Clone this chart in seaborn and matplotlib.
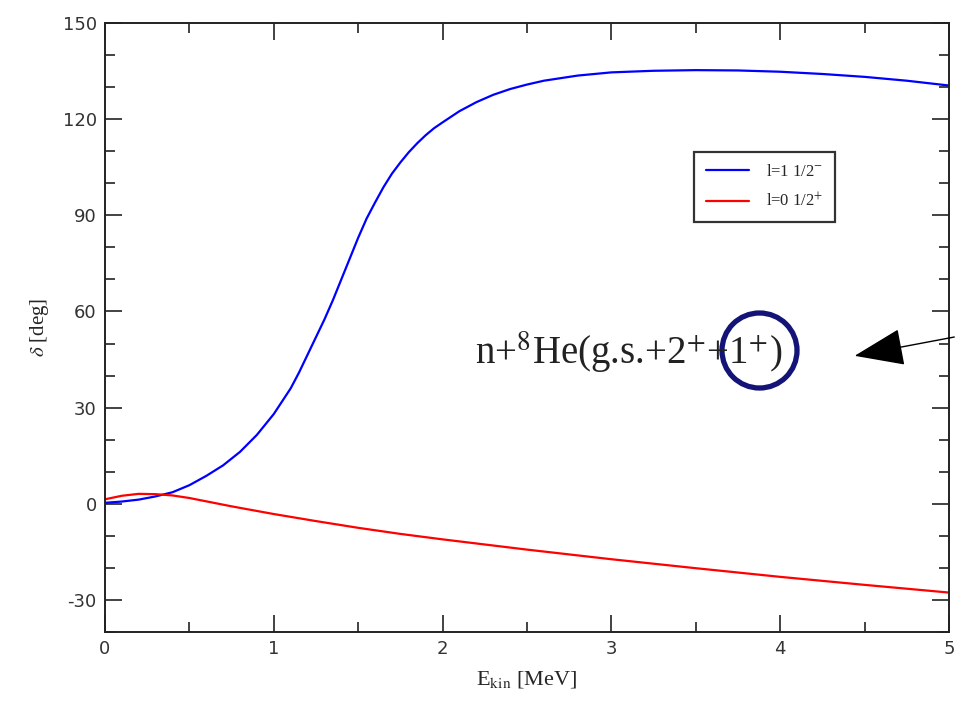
import numpy as np
import pandas as pd
import matplotlib
matplotlib.use('Agg')
import matplotlib.pyplot as plt
import seaborn as sns
from matplotlib.ticker import MultipleLocator

# phase shifts
E_P = [0, 0.1, 0.2, 0.3, 0.4, 0.5, 0.6, 0.7, 0.8, 0.9, 1.0, 1.05, 1.1, 1.15, 1.2, 1.25,
       1.3, 1.35, 1.4, 1.45, 1.5, 1.55, 1.6, 1.65, 1.7, 1.75, 1.8, 1.85, 1.9, 1.95,
       2.0, 2.1, 2.2, 2.3, 2.4, 2.5, 2.6, 2.8, 3.0, 3.25, 3.5, 3.75, 4.0, 4.25, 4.5, 4.75, 5.0]
DELTA_P = [0.3, 0.7, 1.3, 2.3, 3.6, 5.8, 8.7, 12.0, 16.2, 21.5, 28.0, 32.0, 36.0, 41.0,
           46.5, 52.0, 57.5, 63.5, 70.0, 76.5, 83.0, 89.0, 94.0, 98.8, 103.0, 106.5, 109.7,
           112.5, 115.0, 117.2, 119.0, 122.5, 125.3, 127.6, 129.4, 130.8, 132.0, 133.6, 134.6,
           135.1, 135.3, 135.2, 134.8, 134.1, 133.2, 132.0, 130.5]

E_S = [0, 0.1, 0.2, 0.3, 0.4, 0.5, 0.75, 1.0, 1.25, 1.5, 1.75, 2.0, 2.5, 3.0, 3.5, 4.0, 4.5, 5.0]
DELTA_S = [1.4, 2.5, 3.1, 3.0, 2.6, 1.8, -0.8, -3.2, -5.4, -7.5, -9.4, -11.1, -14.3,
           -17.3, -20.1, -22.8, -25.3, -27.7]

LABEL_P = r'l=1 1/2$^{-}$'
LABEL_S = r'l=0 1/2$^{+}$'

df = pd.concat([
    pd.DataFrame({'E': E_P, 'delta': DELTA_P, 'wave': LABEL_P}),
    pd.DataFrame({'E': E_S, 'delta': DELTA_S, 'wave': LABEL_S}),
], ignore_index=True)

sns.set_style('ticks')
plt.rcParams['mathtext.fontset'] = 'stix'
plt.rcParams['axes.unicode_minus'] = False
plt.rcParams['font.family'] = ['DejaVu Sans']

fig = plt.figure(figsize=(9.57, 7.04), dpi=100)
ax = fig.add_axes([0.1097, 0.1023, 0.8819, 0.865])

sns.lineplot(data=df, x='E', y='delta', hue='wave',
             palette={LABEL_P: '#0000ff', LABEL_S: '#ff0000'},
             linewidth=1.6, ax=ax, sort=False)

ax.set_xlim(0, 5)
ax.set_ylim(-40, 150)
ax.xaxis.set_major_locator(MultipleLocator(1))
ax.xaxis.set_minor_locator(MultipleLocator(0.5))
ax.yaxis.set_major_locator(MultipleLocator(30))
ax.yaxis.set_minor_locator(MultipleLocator(10))
ax.tick_params(which='both', direction='in', top=True, right=True, width=1.2,
               color='#222222', labelsize=13, labelcolor='#333333')
ax.tick_params(which='major', length=12, pad=6)
ax.tick_params(which='minor', length=7)
for s in ax.spines.values():
    s.set_linewidth(1.4)
    s.set_color('#222222')

ax.set_xlabel(r'E$_{\rm kin}$ [MeV]', family='Liberation Serif', fontsize=16, labelpad=8)
ax.set_ylabel(r'$\delta$ [deg]', family='Liberation Serif', fontsize=15, labelpad=8)

leg = ax.legend(loc='upper left', bbox_to_anchor=(0.688, 0.802), frameon=True,
                fancybox=False, edgecolor='black', handlelength=2.6,
                prop={'family': 'Liberation Serif', 'size': 12}, borderpad=0.7,
                labelspacing=0.75, handletextpad=1.0)
leg.get_frame().set_linewidth(1.6)

ax.text(2.19, 43.5, r'n+$^{8}$He(g.s.+2$^{+}$+1$^{+}$)', family='Liberation Serif',
        fontsize=28, ha='left', va='baseline', color='#222222')
ax.plot([3.875], [48.0], marker='o', markersize=54, mfc='none', mec='#141478', mew=3.8)

ax.annotate('', xy=(4.425, 46.0), xytext=(1.0, 0.522), textcoords='figure fraction',
            arrowprops=dict(arrowstyle='-|>,head_length=0.8,head_width=0.3',
                            mutation_scale=40, lw=1, color='black'),
            annotation_clip=False)

fig.savefig('out.png', dpi=100, facecolor='white')
